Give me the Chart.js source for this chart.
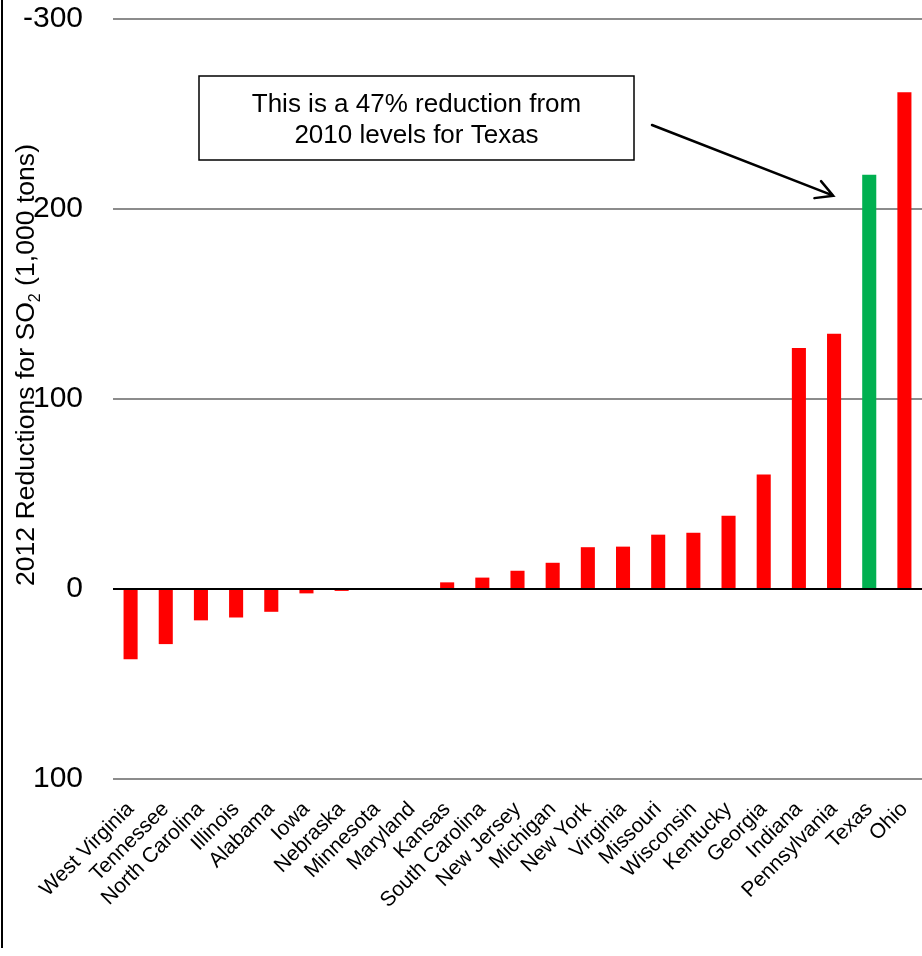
<!DOCTYPE html>
<html>
<head>
<meta charset="utf-8">
<script src="https://cdn.jsdelivr.net/npm/chart.js@4"></script>
<style>
  html, body { margin: 0; padding: 0; background: #fff; }
  canvas { display: block; }
</style>
</head>
<body>
<canvas id="c" width="922" height="956"></canvas>
<script>
// States ordered from largest increase to largest reduction
const categories = [
  'West Virginia', 'Tennessee', 'North Carolina', 'Illinois', 'Alabama', 'Iowa',
  'Nebraska', 'Minnesota', 'Maryland', 'Kansas', 'South Carolina', 'New Jersey',
  'Michigan', 'New York', 'Virginia', 'Missouri', 'Wisconsin', 'Kentucky',
  'Georgia', 'Indiana', 'Pennsylvania', 'Texas', 'Ohio'
];
// 2012 SO2 reductions, thousand tons
const reductions = [
  -37, -29, -16.5, -15, -12, -2.3,
  -1, 0, 0, 3.5, 6, 9.6,
  13.8, 22, 22.3, 28.6, 29.6, 38.6,
  60.2, 126.9, 134.4, 218, 261.4
];
const highlightState = 'Texas';
const yTickValues = [-100, 0, 100, 200, 300];
const yTickLabels = ['100', '0', '100', '200', '-300'];
const noteLines = ['This is a 47% reduction from', '2010 levels for Texas'];
const titleParts = ['2012 Reductions for SO', '2', ' (1,000 tons)'];

const FONT = '"Liberation Sans", Arial, Helvetica, sans-serif';

const decorations = {
  id: 'decorations',
  afterDraw(chart) {
    const ctx = chart.ctx;
    const x = chart.scales.x, y = chart.scales.y;
    ctx.save();

    // frame edge on the left
    ctx.fillStyle = '#000';
    ctx.fillRect(1, 0, 2, 948);

    // rotated axis title with subscript
    ctx.save();
    ctx.translate(34, 365);
    ctx.rotate(-Math.PI / 2);
    ctx.fillStyle = '#000';
    ctx.textBaseline = 'alphabetic';
    ctx.textAlign = 'left';
    const big = '26.6px ' + FONT, small = '16px ' + FONT;
    ctx.font = big;
    const w0 = ctx.measureText(titleParts[0]).width;
    const w2 = ctx.measureText(titleParts[2]).width;
    ctx.font = small;
    const w1 = ctx.measureText(titleParts[1]).width;
    let tx = -(w0 + w1 + w2) / 2;
    ctx.font = big;
    ctx.fillText(titleParts[0], tx, 0);
    tx += w0;
    ctx.font = small;
    ctx.fillText(titleParts[1], tx, 6);
    tx += w1;
    ctx.font = big;
    ctx.fillText(titleParts[2], tx, 0);
    ctx.restore();

    // callout box
    const bx = 199, by = 76, bw = 435, bh = 84;
    ctx.fillStyle = '#fff';
    ctx.fillRect(bx, by, bw, bh);
    ctx.strokeStyle = '#000';
    ctx.lineWidth = 1.5;
    ctx.strokeRect(bx, by, bw, bh);
    ctx.fillStyle = '#000';
    ctx.font = '26px ' + FONT;
    ctx.textAlign = 'center';
    ctx.textBaseline = 'alphabetic';
    ctx.fillText(noteLines[0], bx + bw / 2, 112);
    ctx.fillText(noteLines[1], bx + bw / 2, 143);

    // arrow pointing at the highlighted bar
    const hi = categories.indexOf(highlightState);
    const tipX = x.getPixelForValue(hi) - 36;
    const tipY = y.getPixelForValue(207);
    const sx = 652, sy = 125;
    const ang = Math.atan2(tipY - sy, tipX - sx);
    const head = 19, spread = 0.5;
    ctx.strokeStyle = '#000';
    ctx.lineWidth = 2.5;
    ctx.lineCap = 'round';
    ctx.beginPath();
    ctx.moveTo(sx, sy);
    ctx.lineTo(tipX, tipY);
    ctx.moveTo(tipX - head * Math.cos(ang - spread), tipY - head * Math.sin(ang - spread));
    ctx.lineTo(tipX, tipY);
    ctx.lineTo(tipX - head * Math.cos(ang + spread), tipY - head * Math.sin(ang + spread));
    ctx.stroke();

    ctx.restore();
  }
};

new Chart(document.getElementById('c'), {
  type: 'bar',
  data: {
    labels: categories,
    datasets: [{
      data: reductions,
      backgroundColor: categories.map(c => c === highlightState ? '#00b050' : '#ff0000'),
      borderWidth: 0,
      barPercentage: 0.4,
      categoryPercentage: 1.0
    }]
  },
  options: {
    responsive: false,
    devicePixelRatio: 1,
    animation: false,
    layout: { padding: { top: 19, left: 0, right: 0, bottom: 0 } },
    plugins: {
      legend: { display: false },
      tooltip: { enabled: false },
      title: { display: false }
    },
    scales: {
      x: {
        offset: true,
        grid: { display: false },
        border: { display: false },
        ticks: {
          autoSkip: false,
          maxRotation: 45,
          minRotation: 45,
          padding: 10,
          color: '#000',
          font: { family: FONT, size: 21 }
        },
        afterFit(scale) {
          scale.height = 177;
          scale.paddingLeft = 0;
          scale.paddingRight = 0;
        }
      },
      y: {
        min: -100,
        max: 300,
        afterBuildTicks(scale) { scale.ticks = yTickValues.map(v => ({ value: v })); },
        grid: {
          drawTicks: false,
          lineWidth: 2,
          color: c => (c.tick && c.tick.value === 0) ? '#000' : '#8c8c8c'
        },
        border: { display: false },
        ticks: {
          padding: 30,
          color: '#000',
          font: { family: FONT, size: 30 },
          callback: v => yTickLabels[yTickValues.indexOf(v)]
        },
        afterFit(scale) {
          scale.width = 113;
          scale.paddingTop = 0;
          scale.paddingBottom = 0;
        }
      }
    }
  },
  plugins: [decorations]
});
</script>
</body>
</html>
